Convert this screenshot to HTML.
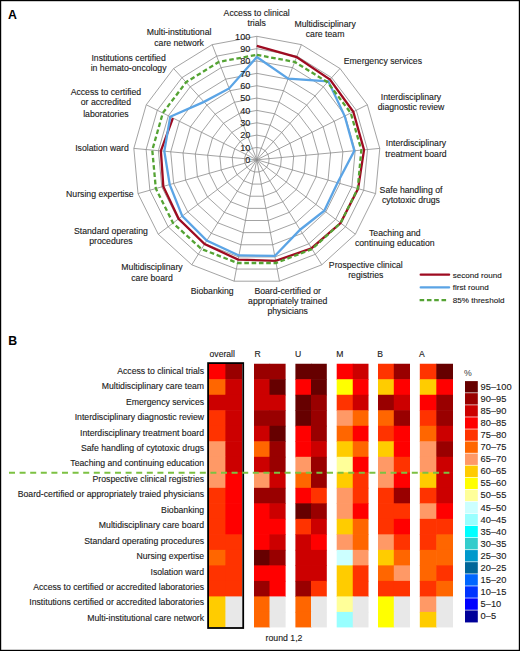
<!DOCTYPE html>
<html><head><meta charset="utf-8"><style>html,body{margin:0;padding:0;background:#fff;width:520px;height:651px;overflow:hidden}</style></head>
<body>
<svg width="520" height="651" viewBox="0 0 520 651" style="display:block">
<rect x="0" y="0" width="520" height="651" fill="#fff"/>
<g fill="none" stroke="#8c8c8c" stroke-width="0.8"><polygon points="256.8,147.45 261.26,148.28 265.12,150.67 267.86,154.3 269.1,158.66 268.68,163.18 266.66,167.24 263.3,170.3 259.07,171.94 254.53,171.94 250.3,170.3 246.94,167.24 244.92,163.18 244.5,158.66 245.74,154.3 248.48,150.67 252.34,148.28"/><polygon points="256.8,135.1 265.72,136.77 273.44,141.55 278.91,148.79 281.39,157.52 280.56,166.56 276.51,174.69 269.8,180.8 261.34,184.08 252.26,184.08 243.8,180.8 237.09,174.69 233.04,166.56 232.21,157.52 234.69,148.79 240.16,141.55 247.88,136.77"/><polygon points="256.8,122.75 270.18,125.25 281.76,132.42 289.97,143.29 293.69,156.38 292.44,169.94 286.37,182.13 276.3,191.3 263.61,196.22 249.99,196.22 237.3,191.3 227.23,182.13 221.16,169.94 219.91,156.38 223.63,143.29 231.84,132.42 243.42,125.25"/><polygon points="256.8,110.4 274.65,113.74 290.08,123.29 301.02,137.78 305.99,155.24 304.31,173.32 296.22,189.57 282.81,201.8 265.88,208.36 247.72,208.36 230.79,201.8 217.38,189.57 209.29,173.32 207.61,155.24 212.58,137.78 223.52,123.29 238.95,113.74"/><polygon points="256.8,98.05 279.11,102.22 298.4,114.17 312.08,132.28 318.29,154.1 316.19,176.7 306.08,197.01 289.31,212.3 268.15,220.5 245.45,220.5 224.29,212.3 207.52,197.01 197.41,176.7 195.31,154.1 201.52,132.28 215.2,114.17 234.49,102.22"/><polygon points="256.8,85.7 283.57,90.7 306.72,105.04 323.13,126.77 330.58,152.96 328.07,180.08 315.93,204.46 295.81,222.8 270.42,232.64 243.18,232.64 217.79,222.8 197.67,204.46 185.53,180.08 183.02,152.96 190.47,126.77 206.88,105.04 230.03,90.7"/><polygon points="256.8,73.35 288.03,79.19 315.04,95.91 334.19,121.27 342.88,151.82 339.95,183.46 325.79,211.9 302.31,233.3 272.69,244.78 240.91,244.78 211.29,233.3 187.81,211.9 173.65,183.46 170.72,151.82 179.41,121.27 198.56,95.91 225.57,79.19"/><polygon points="256.8,61 292.49,67.67 323.36,86.79 345.24,115.76 355.18,150.68 351.83,186.84 335.64,219.34 308.81,243.8 274.95,256.92 238.65,256.92 204.79,243.8 177.96,219.34 161.77,186.84 158.42,150.68 168.36,115.76 190.24,86.79 221.11,67.67"/><polygon points="256.8,48.65 296.95,56.16 331.68,77.66 356.3,110.26 367.48,149.54 363.71,190.22 345.5,226.78 315.31,254.3 277.22,269.06 236.38,269.06 198.29,254.3 168.1,226.78 149.89,190.22 146.12,149.54 157.3,110.26 181.92,77.66 216.65,56.16"/><polygon points="256.8,36.3 301.41,44.64 340,68.53 367.35,104.75 379.77,148.4 375.59,193.6 355.36,234.23 321.81,264.8 279.49,281.2 234.11,281.2 191.79,264.8 158.24,234.23 138.01,193.6 133.83,148.4 146.25,104.75 173.6,68.53 212.19,44.64"/><line x1="256.8" y1="159.8" x2="256.8" y2="36.3"/><line x1="256.8" y1="159.8" x2="301.41" y2="44.64"/><line x1="256.8" y1="159.8" x2="340" y2="68.53"/><line x1="256.8" y1="159.8" x2="367.35" y2="104.75"/><line x1="256.8" y1="159.8" x2="379.77" y2="148.4"/><line x1="256.8" y1="159.8" x2="375.59" y2="193.6"/><line x1="256.8" y1="159.8" x2="355.36" y2="234.23"/><line x1="256.8" y1="159.8" x2="321.81" y2="264.8"/><line x1="256.8" y1="159.8" x2="279.49" y2="281.2"/><line x1="256.8" y1="159.8" x2="234.11" y2="281.2"/><line x1="256.8" y1="159.8" x2="191.79" y2="264.8"/><line x1="256.8" y1="159.8" x2="158.24" y2="234.23"/><line x1="256.8" y1="159.8" x2="138.01" y2="193.6"/><line x1="256.8" y1="159.8" x2="133.83" y2="148.4"/><line x1="256.8" y1="159.8" x2="146.25" y2="104.75"/><line x1="256.8" y1="159.8" x2="173.6" y2="68.53"/><line x1="256.8" y1="159.8" x2="212.19" y2="44.64"/></g>
<polyline points="256.8,45.93 296.6,57.08 330.02,79.48 353.31,111.74 364.03,149.86 358.12,188.63 340.57,223.06 311.54,248.21 275.7,260.92 238.15,259.59 204.59,244.12 178.65,218.82 163.32,186.4 160.88,150.91 172.89,118.02" fill="none" stroke="#9e0b21" stroke-width="2.3" stroke-linejoin="miter"/>
<polygon points="256.8,57.05 288.21,78.73 328.35,81.31 344.69,116.04 354.32,150.76 337.57,182.78 324.31,210.78 300.1,229.73 274.77,255.95 238.92,255.46 206.74,240.65 182.29,216.07 169.73,184.57 164.32,151.23 170.24,116.7 203.97,101.85 229.14,88.4" fill="none" stroke="#5ba4e5" stroke-width="2.3" stroke-linejoin="miter"/>
<polygon points="256.8,54.83 294.72,61.91 327.52,82.22 350.77,113.01 361.33,150.11 357.77,188.53 340.57,223.06 312.06,249.05 276.09,262.99 237.51,262.99 201.54,249.05 173.03,223.06 155.83,188.53 152.27,150.11 162.83,113.01 186.08,82.22 218.88,61.91" fill="none" stroke="#55a334" stroke-width="2.3" stroke-dasharray="4.6 2.7"/>
<g font-family="Liberation Sans, sans-serif" font-size="9.1" text-anchor="end" fill="#1a1a1a" stroke="#1a1a1a" stroke-width="0.12"><text x="250.3" y="163.05">0</text><text x="250.3" y="150.7">10</text><text x="250.3" y="138.35">20</text><text x="250.3" y="126">30</text><text x="250.3" y="113.65">40</text><text x="250.3" y="101.3">50</text><text x="250.3" y="88.95">60</text><text x="250.3" y="76.6">70</text><text x="250.3" y="64.25">80</text><text x="250.3" y="51.9">90</text><text x="250.3" y="39.55">100</text></g>
<g font-family="Liberation Sans, sans-serif" font-size="8.7" text-anchor="middle" fill="#1a1a1a" stroke="#1a1a1a" stroke-width="0.12"><text x="256.7" y="15.7">Access to clinical</text><text x="256.7" y="25.8">trials</text><text x="325.1" y="26.5">Multidisciplinary</text><text x="325.1" y="37.1">care team</text><text x="382.9" y="64.3">Emergency services</text><text x="411.0" y="100.2">Interdisciplinary</text><text x="411.0" y="110.4">diagnostic review</text><text x="416.0" y="146.2">Interdisciplinary</text><text x="416.0" y="156.5">treatment board</text><text x="411.0" y="192.7">Safe handling of</text><text x="411.0" y="203.1">cytotoxic drugs</text><text x="394.8" y="235.7">Teaching and</text><text x="394.8" y="246.1">continuing education</text><text x="365.8" y="268.2">Prospective clinical</text><text x="365.8" y="278.1">registries</text><text x="287.7" y="293.5">Board-certified or</text><text x="287.7" y="303.6">appropriately trained</text><text x="287.7" y="314.0">physicians</text><text x="212.2" y="294.1">Biobanking</text><text x="152.0" y="269.8">Multidisciplinary</text><text x="152.0" y="280.5">care board</text><text x="110.9" y="233.5">Standard operating</text><text x="110.9" y="243.5">procedures</text><text x="99.9" y="196.6">Nursing expertise</text><text x="102.0" y="150.7">Isolation ward</text><text x="105.9" y="94.8">Access to certified</text><text x="105.9" y="105.4">or accredited</text><text x="105.9" y="116.5">laboratories</text><text x="128.6" y="61.2">Institutions certified</text><text x="128.6" y="71.0">in hemato-oncology</text><text x="179.1" y="34.9">Multi-institutional</text><text x="179.1" y="45.8">care network</text></g>
<line x1="420.7" y1="274.7" x2="449.1" y2="274.7" stroke="#9e0b21" stroke-width="2.3" stroke-linecap="round"/>
<line x1="420.7" y1="287.4" x2="449.1" y2="287.4" stroke="#5ba4e5" stroke-width="2.3" stroke-linecap="round"/>
<line x1="419.6" y1="300.2" x2="446.3" y2="300.2" stroke="#55a334" stroke-width="2.3" stroke-dasharray="4.6 2.7"/>
<g font-family="Liberation Sans, sans-serif" font-size="8.1" fill="#1a1a1a" stroke="#1a1a1a" stroke-width="0.12"><text x="452.7" y="277.6">second round</text><text x="452.7" y="290.3">first round</text><text x="452.7" y="303.0">85% threshold</text></g>
<g font-family="Liberation Sans, sans-serif" font-size="12.3" font-weight="bold" fill="#000"><text x="7.9" y="18.75">A</text><text x="8.3" y="344.9">B</text></g>
<g font-family="Liberation Sans, sans-serif" font-size="8.7" text-anchor="end" fill="#1a1a1a" stroke="#1a1a1a" stroke-width="0.12"><text x="204.1" y="373.7">Access to clinical trials</text><text x="204.1" y="389.15">Multidisciplinary care team</text><text x="204.1" y="404.6">Emergency services</text><text x="204.1" y="420.05">Interdisciplinary diagnostic review</text><text x="204.1" y="435.5">Interdisciplinary treatment board</text><text x="204.1" y="450.95">Safe handling of cytotoxic drugs</text><text x="204.1" y="466.4">Teaching and continuing education</text><text x="204.1" y="481.85">Prospective clinical registries</text><text x="204.1" y="497.3">Board-certified or appropriately traied physicians</text><text x="204.1" y="512.75">Biobanking</text><text x="204.1" y="528.2">Multidisciplinary care board</text><text x="204.1" y="543.65">Standard operating procedures</text><text x="204.1" y="559.1">Nursing expertise</text><text x="204.1" y="574.55">Isolation ward</text><text x="204.1" y="590">Access to certified or accredited laboratories</text><text x="204.1" y="605.45">Institutions certified or accredited laboratories</text><text x="204.1" y="620.9">Multi-institutional care network</text></g>
<g><rect x="209" y="363.75" width="17" height="16.11" fill="#ff0000"/><rect x="225.4" y="363.75" width="16.7" height="16.11" fill="#990000"/><rect x="209" y="379.26" width="17" height="16.11" fill="#ff6600"/><rect x="225.4" y="379.26" width="16.7" height="16.11" fill="#cc0000"/><rect x="209" y="394.77" width="17" height="16.11" fill="#cc0000"/><rect x="225.4" y="394.77" width="16.7" height="16.11" fill="#cc0000"/><rect x="209" y="410.28" width="17" height="16.11" fill="#ff3300"/><rect x="225.4" y="410.28" width="16.7" height="16.11" fill="#cc0000"/><rect x="209" y="425.79" width="17" height="16.11" fill="#ff3300"/><rect x="225.4" y="425.79" width="16.7" height="16.11" fill="#cc0000"/><rect x="209" y="441.3" width="17" height="16.11" fill="#ff9966"/><rect x="225.4" y="441.3" width="16.7" height="16.11" fill="#cc0000"/><rect x="209" y="456.81" width="17" height="16.11" fill="#ff9966"/><rect x="225.4" y="456.81" width="16.7" height="16.11" fill="#cc0000"/><rect x="209" y="472.32" width="17" height="16.11" fill="#ff9966"/><rect x="225.4" y="472.32" width="16.7" height="16.11" fill="#ff0000"/><rect x="209" y="487.83" width="17" height="16.11" fill="#ff3300"/><rect x="225.4" y="487.83" width="16.7" height="16.11" fill="#ff0000"/><rect x="209" y="503.34" width="17" height="16.11" fill="#ff3300"/><rect x="225.4" y="503.34" width="16.7" height="16.11" fill="#ff0000"/><rect x="209" y="518.85" width="17" height="16.11" fill="#ff3300"/><rect x="225.4" y="518.85" width="16.7" height="16.11" fill="#ff0000"/><rect x="209" y="534.36" width="17" height="16.11" fill="#ff3300"/><rect x="225.4" y="534.36" width="16.7" height="16.11" fill="#ff3300"/><rect x="209" y="549.87" width="17" height="16.11" fill="#ff6600"/><rect x="225.4" y="549.87" width="16.7" height="16.11" fill="#ff3300"/><rect x="209" y="565.38" width="17" height="16.11" fill="#ff3300"/><rect x="225.4" y="565.38" width="16.7" height="16.11" fill="#ff3300"/><rect x="209" y="580.89" width="17" height="16.11" fill="#ff3300"/><rect x="225.4" y="580.89" width="16.7" height="16.11" fill="#ff3300"/><rect x="209" y="596.4" width="17" height="16.11" fill="#ffcc00"/><rect x="225.4" y="596.4" width="16.7" height="16.11" fill="#e8e8e8"/><rect x="209" y="611.91" width="17" height="15.51" fill="#ffcc00"/><rect x="225.4" y="611.91" width="16.7" height="15.51" fill="#e8e8e8"/><rect x="254" y="363.75" width="16.1" height="16.11" fill="#990000"/><rect x="269.5" y="363.75" width="16.1" height="16.11" fill="#990000"/><rect x="254" y="379.26" width="16.1" height="16.11" fill="#cc0000"/><rect x="269.5" y="379.26" width="16.1" height="16.11" fill="#660000"/><rect x="254" y="394.77" width="16.1" height="16.11" fill="#cc0000"/><rect x="269.5" y="394.77" width="16.1" height="16.11" fill="#cc0000"/><rect x="254" y="410.28" width="16.1" height="16.11" fill="#990000"/><rect x="269.5" y="410.28" width="16.1" height="16.11" fill="#990000"/><rect x="254" y="425.79" width="16.1" height="16.11" fill="#cc0000"/><rect x="269.5" y="425.79" width="16.1" height="16.11" fill="#660000"/><rect x="254" y="441.3" width="16.1" height="16.11" fill="#ff6600"/><rect x="269.5" y="441.3" width="16.1" height="16.11" fill="#990000"/><rect x="254" y="456.81" width="16.1" height="16.11" fill="#cc0000"/><rect x="269.5" y="456.81" width="16.1" height="16.11" fill="#990000"/><rect x="254" y="472.32" width="16.1" height="16.11" fill="#ff9966"/><rect x="269.5" y="472.32" width="16.1" height="16.11" fill="#cc0000"/><rect x="254" y="487.83" width="16.1" height="16.11" fill="#990000"/><rect x="269.5" y="487.83" width="16.1" height="16.11" fill="#990000"/><rect x="254" y="503.34" width="16.1" height="16.11" fill="#ff0000"/><rect x="269.5" y="503.34" width="16.1" height="16.11" fill="#cc0000"/><rect x="254" y="518.85" width="16.1" height="16.11" fill="#ff0000"/><rect x="269.5" y="518.85" width="16.1" height="16.11" fill="#ff0000"/><rect x="254" y="534.36" width="16.1" height="16.11" fill="#ff0000"/><rect x="269.5" y="534.36" width="16.1" height="16.11" fill="#cc0000"/><rect x="254" y="549.87" width="16.1" height="16.11" fill="#660000"/><rect x="269.5" y="549.87" width="16.1" height="16.11" fill="#990000"/><rect x="254" y="565.38" width="16.1" height="16.11" fill="#ff0000"/><rect x="269.5" y="565.38" width="16.1" height="16.11" fill="#ff0000"/><rect x="254" y="580.89" width="16.1" height="16.11" fill="#990000"/><rect x="269.5" y="580.89" width="16.1" height="16.11" fill="#ff0000"/><rect x="254" y="596.4" width="16.1" height="16.11" fill="#ff6600"/><rect x="269.5" y="596.4" width="16.1" height="16.11" fill="#e8e8e8"/><rect x="254" y="611.91" width="16.1" height="15.51" fill="#ff6600"/><rect x="269.5" y="611.91" width="16.1" height="15.51" fill="#e8e8e8"/><rect x="295.4" y="363.75" width="16.2" height="16.11" fill="#660000"/><rect x="311" y="363.75" width="15.8" height="16.11" fill="#660000"/><rect x="295.4" y="379.26" width="16.2" height="16.11" fill="#ff0000"/><rect x="311" y="379.26" width="15.8" height="16.11" fill="#660000"/><rect x="295.4" y="394.77" width="16.2" height="16.11" fill="#660000"/><rect x="311" y="394.77" width="15.8" height="16.11" fill="#990000"/><rect x="295.4" y="410.28" width="16.2" height="16.11" fill="#660000"/><rect x="311" y="410.28" width="15.8" height="16.11" fill="#990000"/><rect x="295.4" y="425.79" width="16.2" height="16.11" fill="#ff0000"/><rect x="311" y="425.79" width="15.8" height="16.11" fill="#990000"/><rect x="295.4" y="441.3" width="16.2" height="16.11" fill="#ff0000"/><rect x="311" y="441.3" width="15.8" height="16.11" fill="#cc0000"/><rect x="295.4" y="456.81" width="16.2" height="16.11" fill="#ff9966"/><rect x="311" y="456.81" width="15.8" height="16.11" fill="#990000"/><rect x="295.4" y="472.32" width="16.2" height="16.11" fill="#ff6600"/><rect x="311" y="472.32" width="15.8" height="16.11" fill="#990000"/><rect x="295.4" y="487.83" width="16.2" height="16.11" fill="#ff0000"/><rect x="311" y="487.83" width="15.8" height="16.11" fill="#ff3300"/><rect x="295.4" y="503.34" width="16.2" height="16.11" fill="#660000"/><rect x="311" y="503.34" width="15.8" height="16.11" fill="#990000"/><rect x="295.4" y="518.85" width="16.2" height="16.11" fill="#ff3300"/><rect x="311" y="518.85" width="15.8" height="16.11" fill="#cc0000"/><rect x="295.4" y="534.36" width="16.2" height="16.11" fill="#cc0000"/><rect x="311" y="534.36" width="15.8" height="16.11" fill="#ff0000"/><rect x="295.4" y="549.87" width="16.2" height="16.11" fill="#cc0000"/><rect x="311" y="549.87" width="15.8" height="16.11" fill="#cc0000"/><rect x="295.4" y="565.38" width="16.2" height="16.11" fill="#cc0000"/><rect x="311" y="565.38" width="15.8" height="16.11" fill="#cc0000"/><rect x="295.4" y="580.89" width="16.2" height="16.11" fill="#990000"/><rect x="311" y="580.89" width="15.8" height="16.11" fill="#ff3300"/><rect x="295.4" y="596.4" width="16.2" height="16.11" fill="#ff6600"/><rect x="311" y="596.4" width="15.8" height="16.11" fill="#e8e8e8"/><rect x="295.4" y="611.91" width="16.2" height="15.51" fill="#ff6600"/><rect x="311" y="611.91" width="15.8" height="15.51" fill="#e8e8e8"/><rect x="336.7" y="363.75" width="16.65" height="16.11" fill="#ff0000"/><rect x="352.75" y="363.75" width="15.75" height="16.11" fill="#cc0000"/><rect x="336.7" y="379.26" width="16.65" height="16.11" fill="#ffff00"/><rect x="352.75" y="379.26" width="15.75" height="16.11" fill="#ff0000"/><rect x="336.7" y="394.77" width="16.65" height="16.11" fill="#ff3300"/><rect x="352.75" y="394.77" width="15.75" height="16.11" fill="#cc0000"/><rect x="336.7" y="410.28" width="16.65" height="16.11" fill="#ff9966"/><rect x="352.75" y="410.28" width="15.75" height="16.11" fill="#ff6600"/><rect x="336.7" y="425.79" width="16.65" height="16.11" fill="#ff6600"/><rect x="352.75" y="425.79" width="15.75" height="16.11" fill="#ff0000"/><rect x="336.7" y="441.3" width="16.65" height="16.11" fill="#ffcc00"/><rect x="352.75" y="441.3" width="15.75" height="16.11" fill="#ff6600"/><rect x="336.7" y="456.81" width="16.65" height="16.11" fill="#ffff99"/><rect x="352.75" y="456.81" width="15.75" height="16.11" fill="#ff0000"/><rect x="336.7" y="472.32" width="16.65" height="16.11" fill="#ffcc00"/><rect x="352.75" y="472.32" width="15.75" height="16.11" fill="#ff3300"/><rect x="336.7" y="487.83" width="16.65" height="16.11" fill="#ff9966"/><rect x="352.75" y="487.83" width="15.75" height="16.11" fill="#ff3300"/><rect x="336.7" y="503.34" width="16.65" height="16.11" fill="#ff9966"/><rect x="352.75" y="503.34" width="15.75" height="16.11" fill="#ff0000"/><rect x="336.7" y="518.85" width="16.65" height="16.11" fill="#ffcc00"/><rect x="352.75" y="518.85" width="15.75" height="16.11" fill="#ff6600"/><rect x="336.7" y="534.36" width="16.65" height="16.11" fill="#ff9966"/><rect x="352.75" y="534.36" width="15.75" height="16.11" fill="#ff6600"/><rect x="336.7" y="549.87" width="16.65" height="16.11" fill="#ccffff"/><rect x="352.75" y="549.87" width="15.75" height="16.11" fill="#ff9966"/><rect x="336.7" y="565.38" width="16.65" height="16.11" fill="#ffcc00"/><rect x="352.75" y="565.38" width="15.75" height="16.11" fill="#ff3300"/><rect x="336.7" y="580.89" width="16.65" height="16.11" fill="#ffcc00"/><rect x="352.75" y="580.89" width="15.75" height="16.11" fill="#ff3300"/><rect x="336.7" y="596.4" width="16.65" height="16.11" fill="#ffff99"/><rect x="352.75" y="596.4" width="15.75" height="16.11" fill="#e8e8e8"/><rect x="336.7" y="611.91" width="16.65" height="15.51" fill="#99ffff"/><rect x="352.75" y="611.91" width="15.75" height="15.51" fill="#e8e8e8"/><rect x="378" y="363.75" width="16.4" height="16.11" fill="#ff3300"/><rect x="393.8" y="363.75" width="16.2" height="16.11" fill="#990000"/><rect x="378" y="379.26" width="16.4" height="16.11" fill="#ffcc00"/><rect x="393.8" y="379.26" width="16.2" height="16.11" fill="#ff0000"/><rect x="378" y="394.77" width="16.4" height="16.11" fill="#990000"/><rect x="393.8" y="394.77" width="16.2" height="16.11" fill="#cc0000"/><rect x="378" y="410.28" width="16.4" height="16.11" fill="#ff6600"/><rect x="393.8" y="410.28" width="16.2" height="16.11" fill="#990000"/><rect x="378" y="425.79" width="16.4" height="16.11" fill="#ff3300"/><rect x="393.8" y="425.79" width="16.2" height="16.11" fill="#ff0000"/><rect x="378" y="441.3" width="16.4" height="16.11" fill="#ffcc00"/><rect x="393.8" y="441.3" width="16.2" height="16.11" fill="#ff0000"/><rect x="378" y="456.81" width="16.4" height="16.11" fill="#ff9966"/><rect x="393.8" y="456.81" width="16.2" height="16.11" fill="#ff3300"/><rect x="378" y="472.32" width="16.4" height="16.11" fill="#ff9966"/><rect x="393.8" y="472.32" width="16.2" height="16.11" fill="#ff0000"/><rect x="378" y="487.83" width="16.4" height="16.11" fill="#ff3300"/><rect x="393.8" y="487.83" width="16.2" height="16.11" fill="#990000"/><rect x="378" y="503.34" width="16.4" height="16.11" fill="#ff3300"/><rect x="393.8" y="503.34" width="16.2" height="16.11" fill="#ff3300"/><rect x="378" y="518.85" width="16.4" height="16.11" fill="#ff3300"/><rect x="393.8" y="518.85" width="16.2" height="16.11" fill="#ff0000"/><rect x="378" y="534.36" width="16.4" height="16.11" fill="#ff9966"/><rect x="393.8" y="534.36" width="16.2" height="16.11" fill="#ff3300"/><rect x="378" y="549.87" width="16.4" height="16.11" fill="#ffcc00"/><rect x="393.8" y="549.87" width="16.2" height="16.11" fill="#ff6600"/><rect x="378" y="565.38" width="16.4" height="16.11" fill="#ff6600"/><rect x="393.8" y="565.38" width="16.2" height="16.11" fill="#ff9966"/><rect x="378" y="580.89" width="16.4" height="16.11" fill="#ff3300"/><rect x="393.8" y="580.89" width="16.2" height="16.11" fill="#ff3300"/><rect x="378" y="596.4" width="16.4" height="16.11" fill="#ffff00"/><rect x="393.8" y="596.4" width="16.2" height="16.11" fill="#e8e8e8"/><rect x="378" y="611.91" width="16.4" height="15.51" fill="#ffff00"/><rect x="393.8" y="611.91" width="16.2" height="15.51" fill="#e8e8e8"/><rect x="419.8" y="363.75" width="17.1" height="16.11" fill="#ff3300"/><rect x="436.3" y="363.75" width="16.7" height="16.11" fill="#660000"/><rect x="419.8" y="379.26" width="17.1" height="16.11" fill="#ffcc00"/><rect x="436.3" y="379.26" width="16.7" height="16.11" fill="#ff0000"/><rect x="419.8" y="394.77" width="17.1" height="16.11" fill="#ff0000"/><rect x="436.3" y="394.77" width="16.7" height="16.11" fill="#990000"/><rect x="419.8" y="410.28" width="17.1" height="16.11" fill="#ff3300"/><rect x="436.3" y="410.28" width="16.7" height="16.11" fill="#990000"/><rect x="419.8" y="425.79" width="17.1" height="16.11" fill="#ff6600"/><rect x="436.3" y="425.79" width="16.7" height="16.11" fill="#cc0000"/><rect x="419.8" y="441.3" width="17.1" height="16.11" fill="#ff9966"/><rect x="436.3" y="441.3" width="16.7" height="16.11" fill="#990000"/><rect x="419.8" y="456.81" width="17.1" height="16.11" fill="#ff9966"/><rect x="436.3" y="456.81" width="16.7" height="16.11" fill="#cc0000"/><rect x="419.8" y="472.32" width="17.1" height="16.11" fill="#ffcc00"/><rect x="436.3" y="472.32" width="16.7" height="16.11" fill="#cc0000"/><rect x="419.8" y="487.83" width="17.1" height="16.11" fill="#ff3300"/><rect x="436.3" y="487.83" width="16.7" height="16.11" fill="#cc0000"/><rect x="419.8" y="503.34" width="17.1" height="16.11" fill="#ff9966"/><rect x="436.3" y="503.34" width="16.7" height="16.11" fill="#ff0000"/><rect x="419.8" y="518.85" width="17.1" height="16.11" fill="#ff3300"/><rect x="436.3" y="518.85" width="16.7" height="16.11" fill="#ff3300"/><rect x="419.8" y="534.36" width="17.1" height="16.11" fill="#ff3300"/><rect x="436.3" y="534.36" width="16.7" height="16.11" fill="#ff6600"/><rect x="419.8" y="549.87" width="17.1" height="16.11" fill="#ff6600"/><rect x="436.3" y="549.87" width="16.7" height="16.11" fill="#ff6600"/><rect x="419.8" y="565.38" width="17.1" height="16.11" fill="#ff6600"/><rect x="436.3" y="565.38" width="16.7" height="16.11" fill="#ff3300"/><rect x="419.8" y="580.89" width="17.1" height="16.11" fill="#ff3300"/><rect x="436.3" y="580.89" width="16.7" height="16.11" fill="#ff6600"/><rect x="419.8" y="596.4" width="17.1" height="16.11" fill="#ff9966"/><rect x="436.3" y="596.4" width="16.7" height="16.11" fill="#e8e8e8"/><rect x="419.8" y="611.91" width="17.1" height="15.51" fill="#ffcc00"/><rect x="436.3" y="611.91" width="16.7" height="15.51" fill="#e8e8e8"/></g>
<rect x="208.1" y="363.1" width="35.1" height="264.9" fill="none" stroke="#000" stroke-width="1.8"/>
<g font-family="Liberation Sans, sans-serif" font-size="8.6" fill="#1a1a1a" stroke="#1a1a1a" stroke-width="0.12"><text x="209.6" y="356.5">overall</text><text x="254.4" y="356.5">R</text><text x="295.0" y="356.5">U</text><text x="336.2" y="356.5">M</text><text x="377.3" y="356.5">B</text><text x="419.0" y="356.5">A</text></g>
<line x1="9.0" y1="472.7" x2="449.4" y2="472.7" stroke="#7cc142" stroke-width="1.9" stroke-dasharray="6 4.6"/>
<text font-family="Liberation Sans, sans-serif" font-size="8.75" x="265.5" y="641.0" fill="#1a1a1a" stroke="#1a1a1a" stroke-width="0.12">round 1,2</text>
<g><rect x="465" y="381.1" width="12.8" height="11.4" fill="#660000"/><rect x="465" y="393.17" width="12.8" height="11.4" fill="#990000"/><rect x="465" y="405.24" width="12.8" height="11.4" fill="#cc0000"/><rect x="465" y="417.31" width="12.8" height="11.4" fill="#ff0000"/><rect x="465" y="429.38" width="12.8" height="11.4" fill="#ff3300"/><rect x="465" y="441.45" width="12.8" height="11.4" fill="#ff6600"/><rect x="465" y="453.52" width="12.8" height="11.4" fill="#ff9966"/><rect x="465" y="465.59" width="12.8" height="11.4" fill="#ffcc00"/><rect x="465" y="477.66" width="12.8" height="11.4" fill="#ffff00"/><rect x="465" y="489.73" width="12.8" height="11.4" fill="#ffff99"/><rect x="465" y="501.8" width="12.8" height="11.4" fill="#ccffff"/><rect x="465" y="513.87" width="12.8" height="11.4" fill="#99ffff"/><rect x="465" y="525.94" width="12.8" height="11.4" fill="#00ffff"/><rect x="465" y="538.01" width="12.8" height="11.4" fill="#33cccc"/><rect x="465" y="550.08" width="12.8" height="11.4" fill="#0099cc"/><rect x="465" y="562.15" width="12.8" height="11.4" fill="#006699"/><rect x="465" y="574.22" width="12.8" height="11.4" fill="#0066ff"/><rect x="465" y="586.29" width="12.8" height="11.4" fill="#0033ff"/><rect x="465" y="598.36" width="12.8" height="11.4" fill="#0000ff"/><rect x="465" y="610.43" width="12.8" height="12.0" fill="#000099"/></g>
<g font-family="Liberation Sans, sans-serif" font-size="9.3" fill="#1a1a1a" stroke="#1a1a1a" stroke-width="0.12"><text x="480.6" y="389.85">95–100</text><text x="480.6" y="401.92">90–95</text><text x="480.6" y="413.99">85–90</text><text x="480.6" y="426.06">80–85</text><text x="480.6" y="438.13">75–80</text><text x="480.6" y="450.2">70–75</text><text x="480.6" y="462.27">65–70</text><text x="480.6" y="474.34">60–65</text><text x="480.6" y="486.41">55–60</text><text x="480.6" y="498.48">50–55</text><text x="480.6" y="510.55">45–50</text><text x="480.6" y="522.62">40–45</text><text x="480.6" y="534.69">35–40</text><text x="480.6" y="546.76">30–35</text><text x="480.6" y="558.83">25–30</text><text x="480.6" y="570.9">20–25</text><text x="480.6" y="582.97">15–20</text><text x="480.6" y="595.04">10–15</text><text x="480.6" y="607.11">5–10</text><text x="480.6" y="619.18">0–5</text></g>
<text font-family="Liberation Sans, sans-serif" font-size="8.7" x="464.1" y="375.7" fill="#3a3a3a">%</text>
<rect x="0.6" y="0.6" width="518.8" height="649.8" fill="none" stroke="#000" stroke-width="1.2"/>
</svg>
</body></html>
